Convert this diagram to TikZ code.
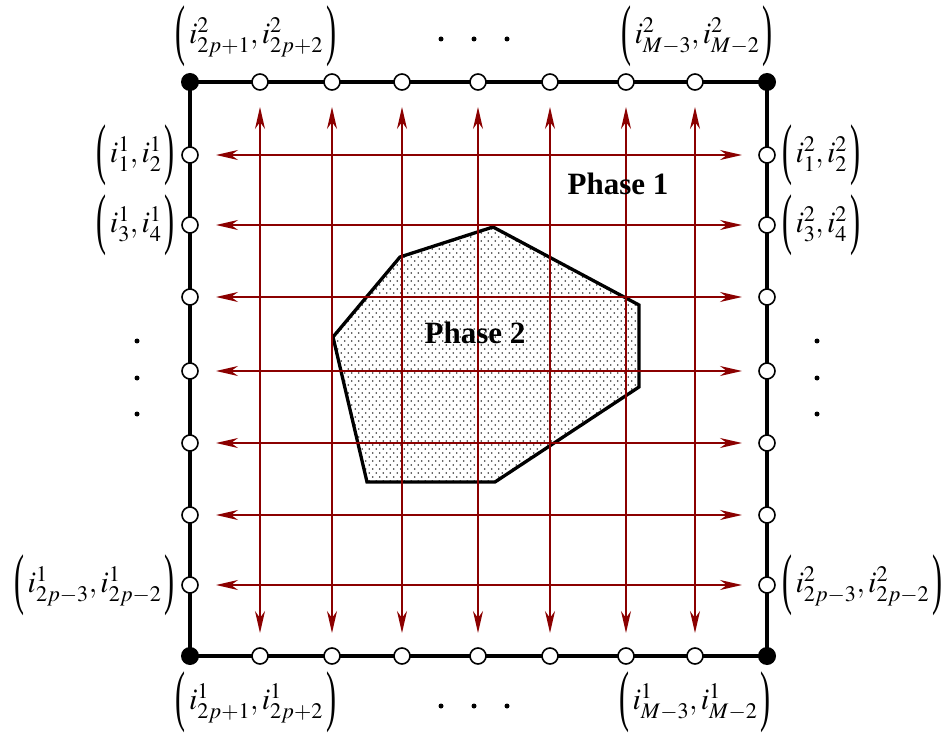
\documentclass[tikz,border=0pt]{standalone}
\usepackage{graphicx}
\usepackage{mathptmx}
\usepackage[no-math]{fontspec}
\setmainfont{Liberation Serif}
\usetikzlibrary{arrows.meta,patterns.meta}
\definecolor{flowred}{RGB}{139,0,0}
\newcommand{\tlp}{\mathopen{\vcenter{\hbox{\scalebox{1}[2.25]{(}}}}\mskip2mu}
\newcommand{\trp}{\mskip2mu\mathclose{\vcenter{\hbox{\scalebox{1}[2.25]{)}}}}}
\tikzdeclarepattern{
  name=sparsedots,
  type=uncolored,
  bounding box={(-0.1pt,-0.1pt) and (7.1pt,8.1pt)},
  tile size={(7pt,8pt)},
  code={
    \fill (1.75pt,2pt) circle (0.85pt);
    \fill (5.25pt,6pt) circle (0.85pt);
  }
}
\begin{document}
\begin{tikzpicture}[x=1pt,y=-1pt,
  frame/.style={line width=3.6pt},
  opendot/.style={circle,draw,line width=1.6pt,fill=white,minimum size=16pt,inner sep=0pt},
  fulldot/.style={circle,fill,minimum size=18pt,inner sep=0pt},
  flow/.style={draw=flowred,line width=1.7pt,
    {Stealth[length=22pt,width=10pt,inset=7pt]}-{Stealth[length=22pt,width=10pt,inset=7pt]}},
  lbl/.style={font=\fontsize{30}{34}\selectfont,inner sep=1pt},
  phase/.style={font=\fontsize{31}{34}\selectfont\bfseries},
  ellip/.style={circle,fill,minimum size=5pt,inner sep=0pt},
  region/.style={line width=3.3pt,pattern=sparsedots,pattern color=black!80}
  ]
\useasboundingbox (0,0) rectangle (948,735);
% inclusion
\draw[region] (333,337) -- (400,257) -- (493,227) -- (639,305) -- (639,387) -- (495,482) -- (367,482) -- cycle;
% corners
\coordinate (c1) at (190,82);
\coordinate (c2) at (767,82);
\coordinate (c3) at (190,656);
\coordinate (c4) at (767,656);
\draw[frame] (c1) -- (c2) -- (c4) -- (c3) -- cycle;
% flows
\foreach \x [count=\i] in {260,332,402,478,550,626,695} {
  \coordinate (vt\i) at (\x,107);
  \coordinate (vb\i) at (\x,633);
  \draw[flow] (vt\i) -- (vb\i);
}
\foreach \y [count=\i] in {155,225,297,371,443,515,585} {
  \coordinate (hl\i) at (216,\y);
  \coordinate (hr\i) at (742,\y);
  \draw[flow] (hl\i) -- (hr\i);
}
% boundary nodes
\foreach \x [count=\i] in {260,332,402,478,550,626,695} {
  \node[opendot] (t\i) at (\x,82) {};
  \node[opendot] (b\i) at (\x,656) {};
}
\foreach \y [count=\i] in {155,225,297,371,443,515,585} {
  \node[opendot] (l\i) at (190,\y) {};
  \node[opendot] (r\i) at (767,\y) {};
}
\node[fulldot] (k1) at (c1) {};
\node[fulldot] (k2) at (c2) {};
\node[fulldot] (k3) at (c3) {};
\node[fulldot] (k4) at (c4) {};
% labels
\node[lbl] (lt1) at (256,36) {$\tlp i^2_{2p+1},i^2_{2p+2}\trp$};
\node[lbl] (lt2) at (697,36) {$\tlp i^2_{M-3},i^2_{M-2}\trp$};
\node[lbl] (lb1) at (256,702) {$\tlp i^1_{2p+1},i^1_{2p+2}\trp$};
\node[lbl] (lb2) at (695,702) {$\tlp i^1_{M-3},i^1_{M-2}\trp$};
\node[lbl,anchor=east] (ll1) at (176,155) {$\tlp i^1_{1},i^1_{2}\trp$};
\node[lbl,anchor=east] (ll2) at (176,225) {$\tlp i^1_{3},i^1_{4}\trp$};
\node[lbl,anchor=east] (ll3) at (176,585) {$\tlp i^1_{2p-3},i^1_{2p-2}\trp$};
\node[lbl,anchor=west] (lr1) at (781,155) {$\tlp i^2_{1},i^2_{2}\trp$};
\node[lbl,anchor=west] (lr2) at (781,225) {$\tlp i^2_{3},i^2_{4}\trp$};
\node[lbl,anchor=west] (lr3) at (781,585) {$\tlp i^2_{2p-3},i^2_{2p-2}\trp$};
% ellipses
\foreach \x [count=\i] in {441,474,507} {
  \node[ellip] (et\i) at (\x,39) {};
  \node[ellip] (eb\i) at (\x,706) {};
}
\foreach \y [count=\i] in {341,378,414} {
  \node[ellip] (el\i) at (137,\y) {};
  \node[ellip] (er\i) at (817,\y) {};
}
% phase labels
\node[phase] (p1) at (618,184) {Phase 1};
\node[phase] (p2) at (475,333) {Phase 2};
\end{tikzpicture}
\end{document}
